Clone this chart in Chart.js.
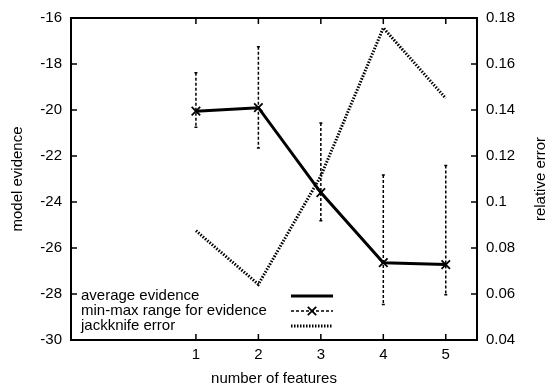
<!DOCTYPE html>
<html>
<head>
<meta charset="utf-8">
<script src="https://cdn.jsdelivr.net/npm/chart.js@4"></script>
<style>
  body { margin: 0; background: #fff; }
  canvas { display: block; }
</style>
</head>
<body>
<canvas id="evidenceChart" width="548" height="389"></canvas>
<script>
// values
const features = [1, 2, 3, 4, 5];
const avgEvidence = [-20.05, -19.9, -23.59, -26.64, -26.72];
const minEvidence = [-20.75, -21.65, -24.82, -28.46, -28.03];
const maxEvidence = [-18.38, -17.25, -20.57, -22.83, -22.41];
const jackknife = [0.0875, 0.0642, 0.1113, 0.1757, 0.1451];

const FONT = '"Liberation Sans", Arial, sans-serif';
Chart.defaults.font.family = FONT;
Chart.defaults.font.size = 15;
Chart.defaults.color = '#000';

const ctxEl = document.getElementById('evidenceChart');

const avgLine = {
    label: 'average evidence',
    data: features.map((f, i) => ({x: f, y: avgEvidence[i]})),
    yAxisID: 'y',
    borderColor: '#000',
    borderWidth: 3,
    pointRadius: 0,
    lineTension: 0,
    fill: false
};

const rangeSet = {
    label: 'min-max range for evidence',
    data: features.map((f, i) => ({x: f, y: avgEvidence[i]})),
    yAxisID: 'y',
    showLine: false,
    borderColor: '#000',
    pointStyle: 'crossRot',
    pointRadius: 6,
    pointBorderWidth: 1.8,
    pointBorderColor: '#000'
};

const jackLine = {
    label: 'jackknife error',
    data: features.map((f, i) => ({x: f, y: jackknife[i]})),
    yAxisID: 'y2',
    borderColor: '#000',
    borderWidth: 3,
    borderDash: [1.5, 1.5],
    pointRadius: 0,
    lineTension: 0,
    fill: false
};

// error bars, frame with inward ticks, legend, right title
const gnuplotLook = {
    id: 'gnuplotLook',
    beforeDatasetsDraw(chart) {
        const ctx = chart.ctx;
        const xs = chart.scales.x, ys = chart.scales.y;
        ctx.save();
        ctx.strokeStyle = '#000';
        ctx.lineWidth = 1.5;
        for (let i = 0; i < features.length; i++) {
            const px = xs.getPixelForValue(features[i]);
            const top = ys.getPixelForValue(maxEvidence[i]);
            const bot = ys.getPixelForValue(minEvidence[i]);
            ctx.setLineDash([3, 2]);
            ctx.beginPath();
            ctx.moveTo(px, top);
            ctx.lineTo(px, bot);
            ctx.stroke();
            ctx.setLineDash([]);
            ctx.beginPath();
            ctx.moveTo(px - 1.5, top); ctx.lineTo(px + 1.5, top);
            ctx.moveTo(px - 1.5, bot); ctx.lineTo(px + 1.5, bot);
            ctx.stroke();
        }
        ctx.restore();
    },
    afterDraw(chart) {
        const ctx = chart.ctx;
        const a = chart.chartArea;
        const xs = chart.scales.x, ys = chart.scales.y, y2 = chart.scales.y2;
        const tl = 6;
        ctx.save();
        ctx.strokeStyle = '#000';
        ctx.lineWidth = 2;
        ctx.setLineDash([]);
        ctx.strokeRect(a.left, a.top, a.right - a.left, a.bottom - a.top);
        ctx.lineWidth = 1.5;
        ctx.beginPath();
        xs.ticks.forEach(t => {
            const px = xs.getPixelForValue(t.value);
            ctx.moveTo(px, a.bottom); ctx.lineTo(px, a.bottom - tl);
            ctx.moveTo(px, a.top); ctx.lineTo(px, a.top + tl);
        });
        ys.ticks.forEach(t => {
            const py = ys.getPixelForValue(t.value);
            ctx.moveTo(a.left, py); ctx.lineTo(a.left + tl, py);
        });
        y2.ticks.forEach(t => {
            const py = y2.getPixelForValue(t.value);
            ctx.moveTo(a.right, py); ctx.lineTo(a.right - tl, py);
        });
        ctx.stroke();

        // legend, bottom left inside the frame
        const rows = [296, 311, 326];
        const sx0 = 291, sx1 = 333;
        ctx.font = '15px ' + FONT;
        ctx.fillStyle = '#000';
        ctx.textBaseline = 'middle';
        ctx.textAlign = 'left';
        [avgLine, rangeSet, jackLine].forEach((d, i) => ctx.fillText(d.label, 81, rows[i]));
        ctx.lineWidth = 3;
        ctx.beginPath(); ctx.moveTo(sx0, rows[0]); ctx.lineTo(sx1, rows[0]); ctx.stroke();
        ctx.lineWidth = 1.5;
        ctx.setLineDash([3, 2]);
        ctx.beginPath(); ctx.moveTo(sx0, rows[1]); ctx.lineTo(sx1, rows[1]); ctx.stroke();
        ctx.setLineDash([]);
        const cx = (sx0 + sx1) / 2, r = 4.2;
        ctx.lineWidth = 1.8;
        ctx.beginPath();
        ctx.moveTo(cx - r, rows[1] - r); ctx.lineTo(cx + r, rows[1] + r);
        ctx.moveTo(cx - r, rows[1] + r); ctx.lineTo(cx + r, rows[1] - r);
        ctx.stroke();
        ctx.lineWidth = 3;
        ctx.setLineDash([1.5, 1.5]);
        ctx.beginPath(); ctx.moveTo(sx0, rows[2]); ctx.lineTo(sx1, rows[2]); ctx.stroke();
        ctx.setLineDash([]);

        // right axis title, reading bottom to top
        ctx.translate(541, (a.top + a.bottom) / 2);
        ctx.rotate(-Math.PI / 2);
        ctx.textAlign = 'center';
        ctx.fillText('relative error', 0, 0);
        ctx.restore();
    }
};

const config = {
    type: 'line',
    data: { datasets: [avgLine, rangeSet, jackLine] },
    plugins: [gnuplotLook],
    options: {
        responsive: false,
        animation: false,
        devicePixelRatio: 1,
        layout: { padding: { top: 16, left: 0, right: 0, bottom: 0 } },
        plugins: {
            legend: { display: false },
            tooltip: { enabled: false }
        },
        scales: {
            x: {
                type: 'linear',
                position: 'bottom',
                min: -1,
                max: 5.5,
                afterBuildTicks: s => { s.ticks = features.map(v => ({value: v})); },
                afterFit: s => { s.height = 49; },
                grid: { display: false, drawTicks: false },
                border: { display: false },
                ticks: { maxRotation: 0, autoSkip: false, padding: 6 },
                title: { display: true, text: 'number of features', padding: 1 }
            },
            y: {
                position: 'left',
                min: -30,
                max: -16,
                afterFit: s => { s.width = 71; },
                grid: { display: false, drawTicks: false },
                border: { display: false },
                ticks: { stepSize: 2, padding: 9 },
                title: { display: true, text: 'model evidence', padding: 9 }
            },
            y2: {
                position: 'right',
                min: 0.04,
                max: 0.18,
                afterFit: s => { s.width = 71; },
                grid: { display: false, drawTicks: false },
                border: { display: false },
                ticks: { stepSize: 0.02, padding: 9, callback: v => String(parseFloat(v.toFixed(2))) }
            }
        }
    }
};

const evidenceChart = new Chart(ctxEl, config);
</script>
</body>
</html>
